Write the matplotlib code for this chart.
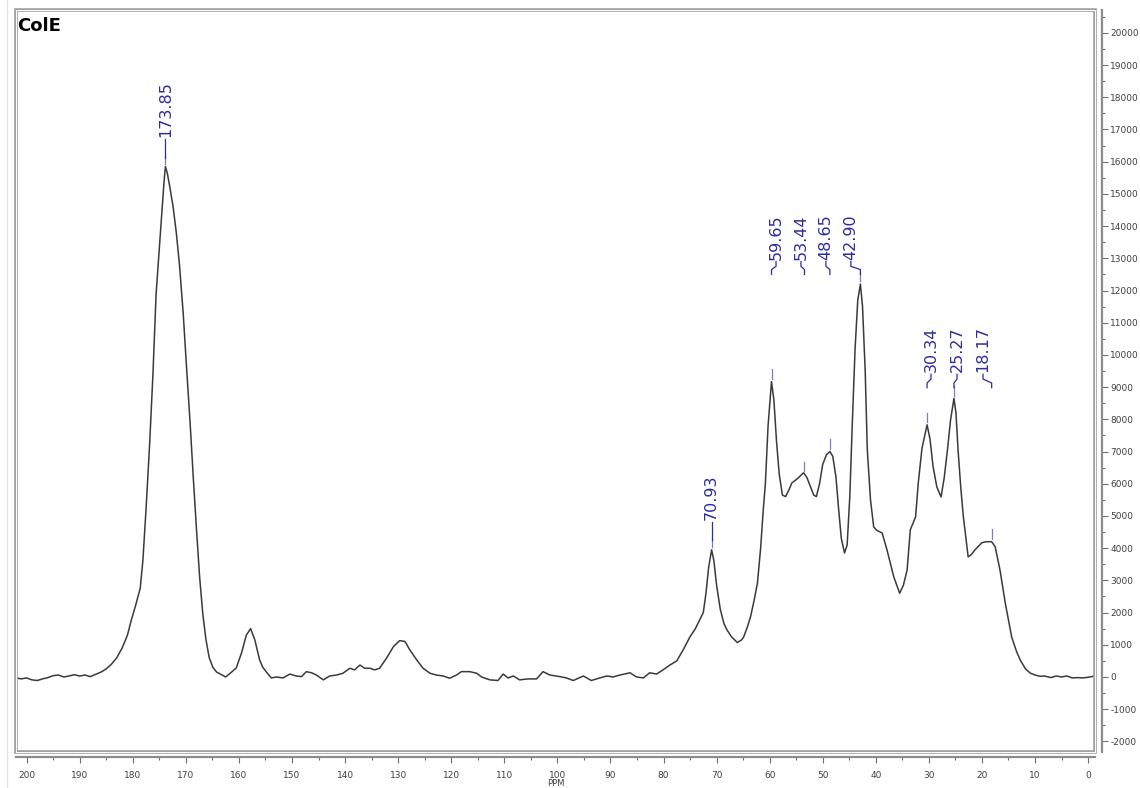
import matplotlib
matplotlib.use('Agg')
import matplotlib.pyplot as plt
from matplotlib.patches import Rectangle
from matplotlib.lines import Line2D
from matplotlib.ticker import MultipleLocator, FormatStrFormatter
import numpy as np

# Spektrum (ppm, Intensitaet)
PPM = [202.0, 201.0, 200.0, 199.0, 198.0, 197.0, 196.0, 195.0, 194.0, 193.0,
       192.0, 191.0, 190.0, 189.0, 188.0, 187.0, 186.0, 185.0, 184.0, 183.0,
       182.0, 181.0, 180.3, 179.5, 178.6, 178.1, 177.5, 176.8, 176.2, 175.6,
       175.0, 174.5, 174.1, 173.85, 173.5, 173.0, 172.4, 171.8, 171.2, 170.5,
       169.9, 169.2, 168.6, 168.0, 167.4, 166.8, 166.2, 165.6, 164.9, 164.2,
       163.6, 162.5, 161.4, 160.5, 159.5, 158.6, 157.8, 157.0, 156.1, 155.5,
       154.8, 153.9, 152.9, 151.7, 150.4, 149.2, 148.2, 147.3, 146.3, 145.4,
       144.1, 142.9, 141.6, 140.4, 139.1, 138.2, 137.2, 136.3, 135.3, 134.4,
       133.5, 132.2, 130.9, 129.7, 128.7, 127.8, 126.5, 125.3, 124.0, 122.8,
       121.5, 120.3, 119.0, 118.1, 116.5, 115.2, 114.3, 112.7, 111.2, 110.2,
       109.3, 108.3, 107.1, 105.5, 103.9, 102.7, 101.4, 99.5, 98.3, 97.0,
       95.1, 93.6, 92.0, 90.7, 89.5, 88.2, 86.3, 85.1, 83.8, 82.6,
       81.3, 80.1, 78.8, 77.5, 76.3, 75.0, 74.0, 73.1, 72.5, 72.0,
       71.5, 70.93, 70.5, 70.0, 69.3, 68.6, 68.0, 67.2, 66.1, 65.3,
       64.9, 64.2, 63.6, 62.9, 62.3, 61.7, 61.2, 60.8, 60.3, 59.65,
       59.2, 58.7, 58.2, 57.6, 57.0, 56.4, 55.8, 55.2, 54.5, 53.6,
       53.0, 52.3, 51.7, 51.2, 50.6, 50.0, 49.3, 48.65, 48.1, 47.5,
       47.0, 46.5, 45.9, 45.4, 44.9, 44.4, 43.9, 43.4, 42.9, 42.5,
       42.0, 41.6, 41.0, 40.4, 39.8, 38.8, 37.9, 36.6, 35.5, 34.8,
       34.1, 33.5, 32.5, 32.0, 31.3, 30.34, 29.8, 29.2, 28.5, 27.7,
       27.1, 26.5, 25.9, 25.27, 24.9, 24.5, 24.0, 23.5, 22.6, 22.0,
       21.3, 20.0, 19.2, 18.17, 17.5, 16.6, 15.6, 14.4, 13.5, 12.8,
       11.8, 10.9, 10.0, 9.0, 8.2, 7.0, 6.0, 5.0, 4.0, 3.0,
       2.0, 1.0, 0.0, -1.3]
INTENSITY = [-30, -60, -30, -90, -110, -60, -20, 40, 60, 0,
             30, 70, 30, 60, 10, 80, 150, 250, 400, 600,
             900, 1300, 1750, 2200, 2750, 3600, 5200, 7300, 9400, 11900,
             13300, 14500, 15400, 15850, 15650, 15200, 14600, 13800, 12800, 11300,
             9700, 7900, 6200, 4600, 3100, 1950, 1150, 600, 300, 150,
             100, 0, 150, 280, 750, 1300, 1500, 1150, 530, 300,
             150, -30, 0, -30, 90, 30, 10, 165, 130, 60,
             -90, 30, 60, 115, 270, 220, 370, 270, 270, 220,
             270, 580, 940, 1130, 1100, 840, 530, 270, 115, 60,
             30, -40, 60, 165, 165, 115, 0, -90, -110, 90,
             -30, 30, -90, -60, -60, 165, 60, 10, -30, -110,
             30, -110, -30, 30, 0, 60, 130, 0, -30, 130,
             90, 220, 370, 500, 840, 1250, 1500, 1800, 2000, 2600,
             3400, 3950, 3600, 2850, 2100, 1650, 1450, 1250, 1070, 1150,
             1240, 1550, 1870, 2400, 2920, 4000, 5200, 6020, 7800, 9170,
             8600, 7300, 6300, 5650, 5600, 5800, 6030, 6100, 6200, 6340,
             6200, 5900, 5650, 5600, 6000, 6600, 6900, 7000, 6850, 6200,
             5200, 4300, 3850, 4100, 5600, 8000, 10200, 11700, 12200, 11500,
             9500, 7050, 5500, 4660, 4550, 4470, 3950, 3100, 2600, 2850,
             3320, 4570, 4970, 6020, 7100, 7830, 7400, 6520, 5900, 5590,
             6200, 7050, 8000, 8650, 8200, 7050, 5900, 4970, 3730, 3800,
             3950, 4170, 4200, 4200, 4040, 3320, 2290, 1240, 800, 530,
             250, 120, 60, 20, 30, -20, 30, 0, 30, -30,
             -20, -30, -10, 30]

# Peak-Beschriftungen
PEAK_PPM = [173.85, 70.93, 59.65, 53.44, 48.65, 42.90, 30.34, 25.27, 18.17]
PEAK_TEXT = ['173.85', '70.93', '59.65', '53.44', '48.65', '42.90', '30.34', '25.27', '18.17']

# Lage der Beschriftung: x der Schrift (ppm), Unterkante der Schrift, Ende des Verbinders
LABEL_X = [173.85, 70.93, 58.8, 54.1, 49.4, 44.7, 29.6, 24.7, 19.8]
LABEL_BOTTOM = [16700, 4800, 12900, 12900, 12900, 12900, 9400, 9400, 9400]
LABEL_JOIN = [16100, 4250, 12500, 12500, 12500, 12500, 8980, 8980, 8980]

LABEL_COLOR = '#2c2ca0'
TICKMARK_COLOR = '#7a7ad0'
LINE_COLOR = '#3a3a3a'
FRAME_COLOR = '#a0a0a0'

W, H = 1140, 788
fig = plt.figure(figsize=(W / 100, H / 100), dpi=100)
ax = fig.add_axes([16 / W, 36 / H, (1095 - 16) / W, (752 - 10) / H])

ax.plot(PPM, INTENSITY, color=LINE_COLOR, lw=1.1, zorder=3)

ax.set_xlim(202.0, -1.3)
ax.set_ylim(-2330, 20710)

# Achsen: unten und rechts, leicht nach aussen versetzt
for side in ['top', 'left']:
    ax.spines[side].set_visible(False)
ax.spines['bottom'].set_position(('outward', 3.6))
ax.spines['right'].set_position(('outward', 5))
for side in ['bottom', 'right']:
    ax.spines[side].set_color('#8c8c8c')
    ax.spines[side].set_linewidth(1.6)

ax.yaxis.tick_right()
ax.xaxis.set_major_locator(MultipleLocator(10))
ax.xaxis.set_minor_locator(MultipleLocator(5))
ax.yaxis.set_major_locator(MultipleLocator(1000))
ax.yaxis.set_minor_locator(MultipleLocator(500))
ax.xaxis.set_major_formatter(FormatStrFormatter('%d'))
ax.yaxis.set_major_formatter(FormatStrFormatter('%d'))
ax.tick_params(which='major', length=4.5, width=0.8, color='#707070',
               labelsize=6.5, labelcolor='#404040')
ax.tick_params(axis='x', which='major', pad=5.5)
ax.tick_params(axis='y', which='major', pad=1.5)
ax.tick_params(which='minor', length=2.5, width=0.8, color='#707070')
ax.set_xlabel('PPM', fontsize=6, color='#404040', labelpad=-0.5)

# Doppelter Rahmen um die Zeichenflaeche
ax.add_patch(Rectangle((0, 0), 1, 1, transform=ax.transAxes, fill=False,
                       ec=FRAME_COLOR, lw=2.6, clip_on=False, zorder=5))
ax.add_patch(Rectangle((0, 0), 1, 1, transform=ax.transAxes, fill=False,
                       ec='white', lw=0.7, clip_on=False, zorder=6))

ax.text(0.0015, 0.991, 'ColE', transform=ax.transAxes, ha='left', va='top',
        fontsize=13, fontweight='bold', color='black')

# Peaks beschriften
d = 150
for px, txt, lx, lb, lj in zip(PEAK_PPM, PEAK_TEXT, LABEL_X, LABEL_BOTTOM, LABEL_JOIN):
    apex = np.interp(px, PPM[::-1], INTENSITY[::-1])
    ax.plot([px, px], [apex + 80, apex + 380], color=TICKMARK_COLOR, lw=0.9, zorder=4)
    ax.plot([lx, lx, px, px], [lb, lb - d, lj + d, lj], color=LABEL_COLOR, lw=0.9, zorder=4)
    ax.text(lx, lb + 60, txt, rotation=90, ha='center', va='bottom',
            fontsize=11.5, color=LABEL_COLOR)

# feine Linie am linken Bildrand
fig.add_artist(Line2D([7 / W, 7 / W], [0, 1], color='#e6e6e6', lw=1))

fig.savefig('out.png', dpi=100)
